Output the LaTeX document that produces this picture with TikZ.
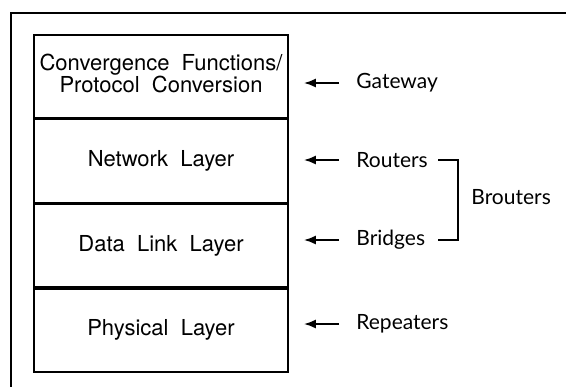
\documentclass[tikz,border=0pt]{standalone}
\usepackage{fontspec}
\setmainfont{TeX Gyre Heros}
\newfontfamily\devfont{Lato}
\usetikzlibrary{positioning,arrows.meta}

\begin{document}
\begin{tikzpicture}[x=0.5pt,y=-0.5pt,
        layer/.style={draw,line width=0.8pt,minimum width=127pt,minimum height=41.5pt,inner sep=0pt},
        layertext/.style={align=center,font=\fontsize{11}{11}\selectfont},
        device/.style={anchor=west,inner sep=0pt,font=\devfont\fontsize{10.5}{12}\selectfont},
        arr/.style={-{Latex[length=6pt,width=4.5pt]},line width=1pt,shorten >=7.5pt,shorten <=8.5pt}]
        \useasboundingbox (0,0) rectangle (566,387);
        % frame
        \draw[line width=1.2pt] (566,13) -- (11,13) -- (11,387);
        % the layers
        \node[layer] (conv) at (161,76.5) {};
        \node[layertext] (convtxt) at ([yshift=1.5pt]conv.center) {Convergence\ \ Functions/\\Protocol\ \ Conversion};
        \node[layer,layertext,below=0pt of conv] (net) {Network\ \ Layer};
        \node[layer,layertext,below=0pt of net] (link) {Data\ \ Link\ \ Layer};
        \node[layer,layertext,below=0pt of link] (phys) {Physical\ \ Layer};
        % devices
        \node[device] (gw) at (356,83) {Gateway};
        \node[device] (rt) at (356,160) {Routers};
        \node[device] (bg) at (356,240) {Bridges};
        \node[device] (rp) at (356,324) {Repeaters};
        \node[device] (brt) at (471,197) {Brouters};
        \draw[arr] (gw.west) -- (conv.east |- gw.west);
        \draw[arr] (rt.west) -- (net.east |- rt.west);
        \draw[arr] (bg.west) -- (link.east |- bg.west);
        \draw[arr] (rp.west) -- (phys.east |- rp.west);
        % bracket
        \draw[line width=1pt] ([xshift=5pt]rt.east) -| ([xshift=-6.5pt]brt.west) |- ([xshift=6pt]bg.east);
\end{tikzpicture}
\end{document}
